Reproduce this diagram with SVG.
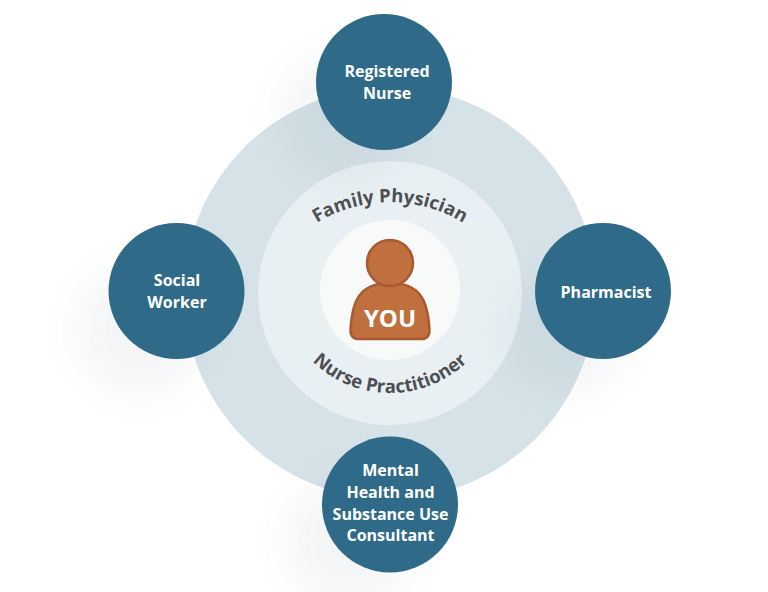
<svg xmlns="http://www.w3.org/2000/svg" width="768" height="592" viewBox="0 0 768 592">
<style>
.node{fill:#2f6b88}
.lbl{font-family:"Open Sans","Noto Sans",sans-serif;font-weight:700;font-size:16px;fill:#fff;text-anchor:middle}
.arc{font-family:"Open Sans","Noto Sans",sans-serif;font-weight:700;font-size:18.500px;fill:#4d4f52;text-anchor:middle}
.sh{fill:#5a7584;opacity:.07;filter:url(#blur)}
</style>
<defs>
<filter id="blur" x="-50%" y="-50%" width="200%" height="200%"><feGaussianBlur stdDeviation="20"/></filter>
<path id="topArc" d="M305 231A140 140 0 0 1 475 231"/>
<path id="botArc" d="M300 347A111 111 0 0 0 480 347"/>
</defs>
<rect width="768" height="592" fill="#fff"/>
<g id="rings">
<circle cx="390" cy="293" r="206" fill="#d5e2e8"/>
<circle cx="390" cy="293" r="132" fill="#e8f0f3"/>
<circle cx="390" cy="290" r="70" fill="#f8fafa"/>
</g>
<g id="shadows">
<circle class="sh" cx="344" cy="118" r="62"/>
<circle class="sh" cx="140" cy="330" r="62"/>
<circle class="sh" cx="565" cy="330" r="62"/>
<circle class="sh" cx="350" cy="540" r="62"/>
</g>
<g id="connectors"></g>
<g id="family-physician"><text class="arc"><textPath href="#topArc" startOffset="50%">Family Physician</textPath></text></g>
<g id="nurse-practitioner"><text class="arc"><textPath href="#botArc" startOffset="50%">Nurse Practitioner</textPath></text></g>
<g id="you">
<path d="M350.500 330C352 303 358 283 390 283C422 283 428 303 429.500 330C430 335 427 339 422 339H358C353 339 350 335 350.500 330Z" fill="#bf703e" stroke="#a85a30" stroke-width="2.500"/>
<circle cx="390" cy="263" r="23" fill="#bf703e" stroke="#a85a30" stroke-width="2.500"/>
<text x="390" y="327" text-anchor="middle" font-family="Open Sans,Noto Sans,sans-serif" font-weight="700" font-size="24" fill="#fff">YOU</text>
</g>
<g id="registered-nurse">
<circle class="node" cx="384" cy="82" r="68"/>
<text class="lbl" x="387" y="77">Registered</text><text class="lbl" x="387" y="98.500">Nurse</text>
</g>
<g id="social-worker">
<circle class="node" cx="176.500" cy="291" r="68"/>
<text class="lbl" x="177" y="286">Social</text><text class="lbl" x="177" y="307.500">Worker</text>
</g>
<g id="pharmacist">
<circle class="node" cx="603" cy="291" r="68"/>
<text class="lbl" x="606" y="297.500">Pharmacist</text>
</g>
<g id="mental-health">
<circle class="node" cx="390" cy="504.500" r="68"/>
<text class="lbl" x="390.500" y="476">Mental</text><text class="lbl" x="390.500" y="498">Health and</text><text class="lbl" x="390.500" y="519.500">Substance Use</text><text class="lbl" x="390.500" y="541">Consultant</text>
</g>
</svg>
